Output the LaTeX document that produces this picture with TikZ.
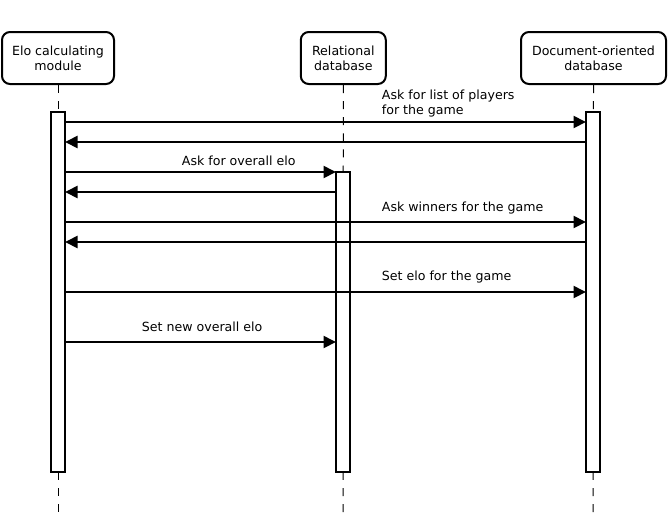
\documentclass[tikz,border=0pt]{standalone}
\usepackage{fontspec}
\setmainfont{DejaVu Sans}
\usetikzlibrary{arrows.meta}

\begin{document}
\begin{tikzpicture}
  [x=1pt, y=-1pt,
   font=\fontsize{12.6}{15}\selectfont,
   actor/.style={shape=rectangle, draw, line width=2pt, rounded corners=8pt, align=center, minimum height=52pt},
   life/.style={line width=1pt, dash pattern=on 8pt off 8.12pt},
   act/.style={shape=rectangle, draw, fill=white, line width=2pt, outer sep=0pt, inner sep=0pt, minimum width=14pt, anchor=north},
   msg/.style={line width=2pt, -{Triangle[length=12.5pt,width=12pt]}},
   lbl/.style={anchor=base west, align=left, inner sep=0pt}]

  \newcommand{\bottom}{512}

  \useasboundingbox (0,0) rectangle (668,514);

  \node [actor, minimum width=112pt] (elo) at (58,58) {Elo calculating\\module};
  \node [actor, minimum width=85pt] (rel) at (343.3,58) {Relational\\database};
  \node [actor, minimum width=145pt] (doc) at (593.5,58) {Document-oriented\\database};

  \coordinate (eloEnd) at (58,\bottom);
  \coordinate (relEnd) at (343,\bottom);
  \coordinate (docEnd) at (593,\bottom);

  \draw[life] (elo.south) -- (eloEnd);
  \draw[life] (rel.south) -- (relEnd);
  \draw[life] (doc.south) -- (docEnd);

  \node [act, minimum height=359.5pt] (eloBar) at (58,112) {};
  \node [act, minimum height=299.5pt] (relBar) at (343,172) {};
  \node [act, minimum height=359.5pt] (docBar) at (593,112) {};

  \coordinate (r1) at (0,122);
  \coordinate (r2) at (0,142);
  \coordinate (r3) at (0,172);
  \coordinate (r4) at (0,192);
  \coordinate (r5) at (0,222);
  \coordinate (r6) at (0,242);
  \coordinate (r7) at (0,292);
  \coordinate (r8) at (0,342);

  \draw[msg] (eloBar.east |- r1) -- (docBar.west |- r1);
  \draw[msg] (docBar.west |- r2) -- (eloBar.east |- r2);
  \draw[msg] (eloBar.east |- r3) -- (relBar.west |- r3);
  \draw[msg] (relBar.west |- r4) -- (eloBar.east |- r4);
  \draw[msg] (eloBar.east |- r5) -- (docBar.west |- r5);
  \draw[msg] (docBar.west |- r6) -- (eloBar.east |- r6);
  \draw[msg] (eloBar.east |- r7) -- (docBar.west |- r7);
  \draw[msg] (eloBar.east |- r8) -- (relBar.west |- r8);

  \node [lbl] (players) at (381.7,114) {Ask for list of players\\for the game};
  \node [lbl] (overall) at (181.7,165.5) {Ask for overall elo};
  \node [lbl] (winners) at (381.7,211.7) {Ask winners for the game};
  \node [lbl] (setgame) at (381.7,280) {Set elo for the game};
  \node [lbl] (setnew) at (141.7,331.7) {Set new overall elo};

\end{tikzpicture}
\end{document}
